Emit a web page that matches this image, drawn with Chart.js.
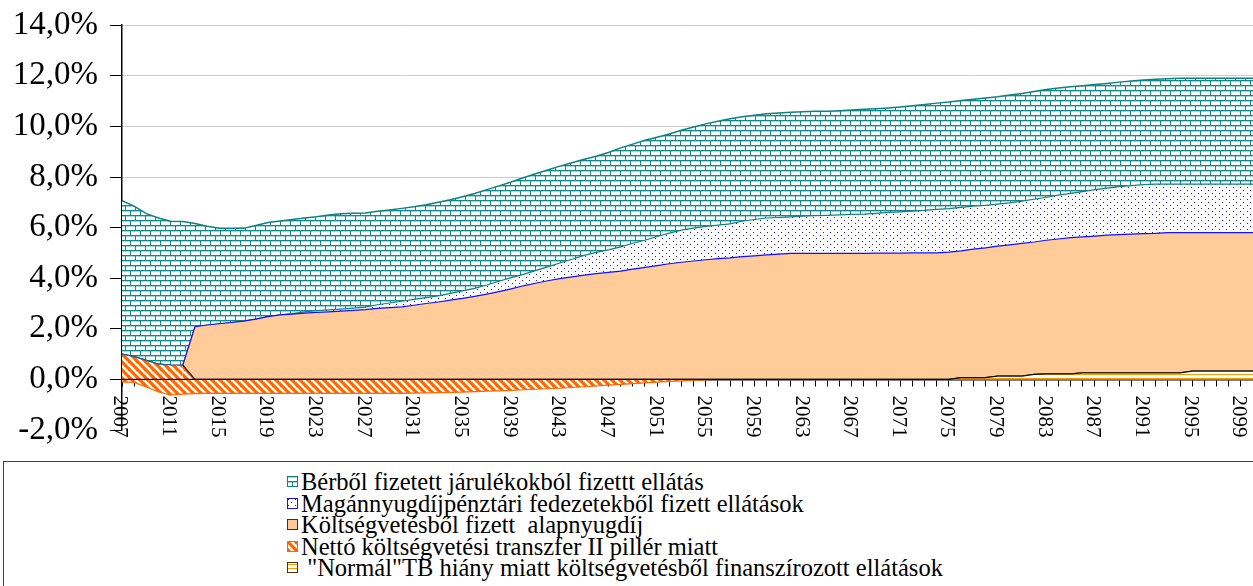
<!DOCTYPE html>
<html>
<head>
<meta charset="utf-8">
<script src="https://cdn.jsdelivr.net/npm/chart.js@4.4.0/dist/chart.umd.min.js"></script>
<style>
  body { margin: 0; background: #fff; width: 1253px; height: 586px; overflow: hidden; position: relative; font-family: "Liberation Serif", serif; }
  #wrap { position: absolute; left: 0; top: 0; width: 1253px; height: 460px; }
  #legend { position: absolute; left: 3px; top: 461px; width: 1300px; height: 200px; border: 1px solid #404040; box-sizing: border-box; }
  .item { position: absolute; left: 283px; height: 22px; font-size: 24.5px; line-height: 22px; white-space: pre; color: #000; }
  .item canvas { position: absolute; left: 0; top: 5px; }
  .item span { position: absolute; left: 14px; top: 0; }
</style>
</head>
<body>
<div id="wrap"><canvas id="chart" width="1253" height="460"></canvas></div>
<div id="legend"></div>
<script>
// categories
var years = [
  2007, 2008, 2009, 2010, 2011, 2012, 2013, 2014, 2015, 2016,
  2017, 2018, 2019, 2020, 2021, 2022, 2023, 2024, 2025, 2026,
  2027, 2028, 2029, 2030, 2031, 2032, 2033, 2034, 2035, 2036,
  2037, 2038, 2039, 2040, 2041, 2042, 2043, 2044, 2045, 2046,
  2047, 2048, 2049, 2050, 2051, 2052, 2053, 2054, 2055, 2056,
  2057, 2058, 2059, 2060, 2061, 2062, 2063, 2064, 2065, 2066,
  2067, 2068, 2069, 2070, 2071, 2072, 2073, 2074, 2075, 2076,
  2077, 2078, 2079, 2080, 2081, 2082, 2083, 2084, 2085, 2086,
  2087, 2088, 2089, 2090, 2091, 2092, 2093, 2094, 2095, 2096,
  2097, 2098, 2099, 2100
];
var yearTicks = [2007, 2011, 2015, 2019, 2023, 2027, 2031, 2035, 2039, 2043, 2047, 2051, 2055, 2059,
  2063, 2067, 2071, 2075, 2079, 2083, 2087, 2091, 2095, 2099];
var yTicks = [-2, 0, 2, 4, 6, 8, 10, 12, 14];

// series (% of GDP)
var berbol = [
  6.06, 5.95, 5.80, 5.78, 5.68, 5.68, 4.08, 3.90, 3.77, 3.71,
  3.67, 3.70, 3.72, 3.71, 3.72, 3.71, 3.71, 3.75, 3.77, 3.75,
  3.72, 3.70, 3.68, 3.67, 3.66, 3.67, 3.70, 3.70, 3.72, 3.75,
  3.77, 3.77, 3.78, 3.82, 3.83, 3.83, 3.83, 3.81, 3.80, 3.80,
  3.85, 3.91, 3.92, 3.95, 3.92, 3.92, 3.95, 4.00, 4.05, 4.10,
  4.15, 4.13, 4.12, 4.12, 4.13, 4.14, 4.13, 4.13, 4.12, 4.12,
  4.13, 4.15, 4.14, 4.13, 4.15, 4.17, 4.19, 4.20, 4.21, 4.22,
  4.22, 4.24, 4.24, 4.26, 4.25, 4.26, 4.26, 4.24, 4.22, 4.19,
  4.16, 4.14, 4.13, 4.13, 4.13, 4.14, 4.16, 4.18, 4.18, 4.18,
  4.18, 4.18, 4.18, 4.18
];
var magan = [
  0, 0, 0, 0, 0, 0, 0, 0, 0, 0,
  0, 0, 0, 0, 0.02, 0.05, 0.07, 0.08, 0.08, 0.09,
  0.10, 0.14, 0.18, 0.22, 0.23, 0.23, 0.24, 0.27, 0.30, 0.32,
  0.36, 0.41, 0.44, 0.45, 0.50, 0.55, 0.62, 0.70, 0.78, 0.84,
  0.89, 0.96, 1.02, 1.07, 1.15, 1.21, 1.27, 1.30, 1.32, 1.33,
  1.35, 1.40, 1.44, 1.46, 1.45, 1.44, 1.47, 1.49, 1.50, 1.52,
  1.54, 1.55, 1.57, 1.61, 1.63, 1.65, 1.68, 1.72, 1.72, 1.72,
  1.70, 1.68, 1.66, 1.66, 1.67, 1.69, 1.70, 1.73, 1.75, 1.79,
  1.84, 1.86, 1.90, 1.92, 1.94, 1.95, 1.92, 1.92, 1.92, 1.92,
  1.92, 1.92, 1.92, 1.92
];
var koltseg = [
  0, 0, 0, 0, 0, 0, 2.08, 2.15, 2.20, 2.25,
  2.30, 2.38, 2.48, 2.55, 2.58, 2.62, 2.65, 2.67, 2.70, 2.73,
  2.76, 2.81, 2.84, 2.87, 2.93, 3.00, 3.06, 3.13, 3.20, 3.28,
  3.37, 3.47, 3.58, 3.70, 3.80, 3.90, 3.98, 4.05, 4.12, 4.18,
  4.23, 4.28, 4.36, 4.43, 4.50, 4.57, 4.63, 4.68, 4.73, 4.77,
  4.80, 4.85, 4.88, 4.92, 4.95, 4.98, 4.98, 4.98, 4.98, 4.98,
  4.98, 4.98, 4.99, 4.99, 4.99, 5.00, 5.00, 5.00, 5.03, 5.01,
  5.08, 5.13, 5.14, 5.19, 5.25, 5.23, 5.28, 5.33, 5.38, 5.37,
  5.40, 5.44, 5.46, 5.48, 5.50, 5.51, 5.54, 5.54, 5.47, 5.47,
  5.47, 5.47, 5.47, 5.47
];
// Nettó transzfer: positive part (stacked under the budget layer) and negative part
var nettoPlus = [
  1.00, 0.90, 0.75, 0.60, 0.57, 0.56, 0, 0, 0, 0,
  0, 0, 0, 0, 0, 0, 0, 0, 0, 0,
  0, 0, 0, 0, 0, 0, 0, 0, 0, 0,
  0, 0, 0, 0, 0, 0, 0, 0, 0, 0,
  0, 0, 0, 0, 0, 0, 0, 0, 0, 0,
  0, 0, 0, 0, 0, 0, 0, 0, 0, 0,
  0, 0, 0, 0, 0, 0, 0, 0, 0, 0,
  0, 0, 0, 0, 0, 0, 0, 0, 0, 0,
  0, 0, 0, 0, 0, 0, 0, 0, 0, 0,
  0, 0, 0, 0
];
var nettoMinus = [
  -0.10, -0.12, -0.30, -0.50, -0.62, -0.58, -0.56, -0.55, -0.55, -0.55,
  -0.55, -0.55, -0.55, -0.55, -0.55, -0.55, -0.55, -0.55, -0.55, -0.55,
  -0.55, -0.55, -0.55, -0.55, -0.54, -0.53, -0.52, -0.51, -0.50, -0.48,
  -0.46, -0.45, -0.43, -0.41, -0.39, -0.37, -0.35, -0.32, -0.29, -0.26,
  -0.23, -0.20, -0.17, -0.14, -0.11, -0.08, -0.06, -0.04, -0.02, 0,
  null, null, null, null, null, null, null, null, null, null,
  null, null, null, null, null, null, null, null, null, null,
  null, null, null, null, null, null, null, null, null, null,
  null, null, null, null, null, null, null, null, null, null,
  null, null, null, null
];
var normal = [
  0, 0, 0, 0, 0, 0, 0, 0, 0, 0,
  0, 0, 0, 0, 0, 0, 0, 0, 0, 0,
  0, 0, 0, 0, 0, 0, 0, 0, 0, 0,
  0, 0, 0, 0, 0, 0, 0, 0, 0, 0,
  0, 0, 0, 0, 0, 0, 0, 0, 0, 0,
  0, 0, 0, 0, 0, 0, 0, 0, 0, 0,
  0, 0, 0, 0, 0, 0, 0, 0, 0, 0.07,
  0.07, 0.07, 0.13, 0.13, 0.13, 0.20, 0.22, 0.22, 0.22, 0.26,
  0.26, 0.26, 0.26, 0.26, 0.26, 0.26, 0.26, 0.26, 0.33, 0.33,
  0.33, 0.33, 0.33, 0.33
];

var names = [
  "Bérből fizetett járulékokból fizettt ellátás",
  "Magánnyugdíjpénztári fedezetekből fizett ellátások",
  "Költségvetésből fizett  alapnyugdíj",
  "Nettó költségvetési transzfer II pillér miatt",
  " \"Normál\"TB hiány miatt költségvetésből finanszírozott ellátások"
];

function makePattern(kind) {
  var c = document.createElement('canvas');
  var x = c.getContext('2d');
  if (kind === 'brick') {
    c.width = 10; c.height = 10;
    x.fillStyle = '#fff'; x.fillRect(0, 0, 10, 10);
    x.fillStyle = '#a8d6d6';
    x.fillRect(0, 1, 10, 1); x.fillRect(0, 6, 10, 1);
    x.fillStyle = '#108a8a';
    x.fillRect(0, 0, 10, 1); x.fillRect(0, 5, 10, 1);
    x.fillRect(0, 0, 1, 5); x.fillRect(5, 5, 1, 5);
  } else if (kind === 'dots') {
    c.width = 7; c.height = 6;
    x.fillStyle = '#fff'; x.fillRect(0, 0, 7, 6);
    x.fillStyle = '#1010ff';
    x.fillRect(1, 1, 1, 1); x.fillRect(4, 4, 1, 1);
  } else if (kind === 'diag') {
    c.width = 8; c.height = 8;
    x.fillStyle = '#fff'; x.fillRect(0, 0, 8, 8);
    x.strokeStyle = '#ff6600'; x.lineWidth = 3.2;
    [-8, 0, 8].forEach(function (k) {
      x.beginPath(); x.moveTo(k - 1, -1); x.lineTo(k + 9, 9); x.stroke();
    });
  } else if (kind === 'hstripe') {
    c.width = 4; c.height = 4;
    x.fillStyle = '#fff'; x.fillRect(0, 0, 4, 4);
    x.fillStyle = '#ff9900';
    x.fillRect(0, 2, 4, 1);
  }
  return x.createPattern(c, 'repeat');
}

var PEACH = '#ffcc99';
var pBrick = makePattern('brick');
var pDots = makePattern('dots');
var pDiag = makePattern('diag');
var pStripe = makePattern('hstripe');

var pct = function (v) { return v.toFixed(1).replace('.', ',') + '%'; };

var yearLabels = {
  id: 'yearLabels',
  afterDraw: function (chart) {
    var xs = chart.scales.x, ys = chart.scales.y, ctx = chart.ctx;
    var y0 = ys.getPixelForValue(0);
    ctx.save();
    ctx.font = '21px "Liberation Serif"';
    ctx.fillStyle = '#000';
    ctx.textAlign = 'left';
    ctx.textBaseline = 'middle';
    yearTicks.forEach(function (yr) {
      var px = xs.getPixelForValue(years.indexOf(yr));
      ctx.save();
      ctx.translate(px, y0 + 16);
      ctx.rotate(Math.PI / 2);
      ctx.fillText(String(yr), 0, 2);
      ctx.restore();
    });
    ctx.restore();
  }
};

var ds = function (label, data, bg, border, fill, stack) {
  return { label: label, data: data, backgroundColor: bg, borderColor: border, borderWidth: 1.2,
    fill: fill, stack: stack, pointRadius: 0, tension: 0 };
};

var datasets = [
  ds(names[4], normal, pStripe, '#111', 'origin', 'pos'),
  ds(names[3], nettoPlus, pDiag, '#111', '-1', 'pos'),
  ds(names[2], koltseg, PEACH, '#1010ff', '-1', 'pos'),
  ds(names[1], magan, pDots, '#108080', '-1', 'pos'),
  ds(names[0], berbol, pBrick, '#108080', '-1', 'pos'),
  ds(names[3], nettoMinus, pDiag, '#ff6600', 'origin', 'neg')
];
datasets[1].segment = { borderColor: function (c) { return c.p0DataIndex < 5 ? '#1a6a8a' : '#111'; } };
datasets[4].borderWidth = 1.5;

new Chart(document.getElementById('chart'), {
  type: 'line',
  data: { labels: years, datasets: datasets },
  options: {
    responsive: false,
    animation: false,
    devicePixelRatio: 1,
    layout: { padding: { top: 0, bottom: 30, left: 0, right: 0 } },
    plugins: { legend: { display: false }, tooltip: { enabled: false } },
    scales: {
      x: {
        type: 'category',
        position: { y: 0 },
        offset: false,
        grid: { drawOnChartArea: false, drawTicks: true, tickLength: 6, tickColor: '#000', tickWidth: 1 },
        border: { display: true, color: '#000', width: 1.5 },
        ticks: { display: false, autoSkip: false }
      },
      y: {
        stacked: true,
        min: -2, max: 14,
        afterBuildTicks: function (s) { s.ticks = yTicks.map(function (v) { return { value: v }; }); },
        ticks: { color: '#000', padding: 12, font: { family: 'Liberation Serif', size: 33, lineHeight: 0.8 },
          callback: function (v) { return pct(v); } },
        grid: {
          color: function (c) { return c.tick && (c.tick.value === -2 || c.tick.value === 0) ? 'rgba(0,0,0,0)' : '#cccccc'; },
          tickColor: '#000', tickLength: 12, drawTicks: true
        },
        border: { color: '#000', width: 1.5 },
        afterFit: function (s) { s.width = 122; }
      }
    }
  },
  plugins: [yearLabels]
});

// legend (top series first, like the original)
var legendRows = [
  { name: names[0], fill: pBrick, edge: '#108080' },
  { name: names[1], fill: pDots, edge: '#1010ff' },
  { name: names[2], fill: PEACH, edge: '#333' },
  { name: names[3], fill: pDiag, edge: '#ff6600' },
  { name: names[4], fill: pStripe, edge: '#4a3010' }
];
var leg = document.getElementById('legend');
legendRows.forEach(function (r, i) {
  var d = document.createElement('div');
  d.className = 'item';
  d.style.top = (9 + i * 21.6) + 'px';
  var c = document.createElement('canvas');
  c.width = 11; c.height = 11;
  var g = c.getContext('2d');
  g.fillStyle = r.fill; g.fillRect(0, 0, 11, 11);
  g.strokeStyle = r.edge; g.lineWidth = 1; g.strokeRect(0.5, 0.5, 10, 10);
  var s = document.createElement('span');
  s.textContent = r.name;
  d.appendChild(c); d.appendChild(s);
  leg.appendChild(d);
});
</script>
</body>
</html>
